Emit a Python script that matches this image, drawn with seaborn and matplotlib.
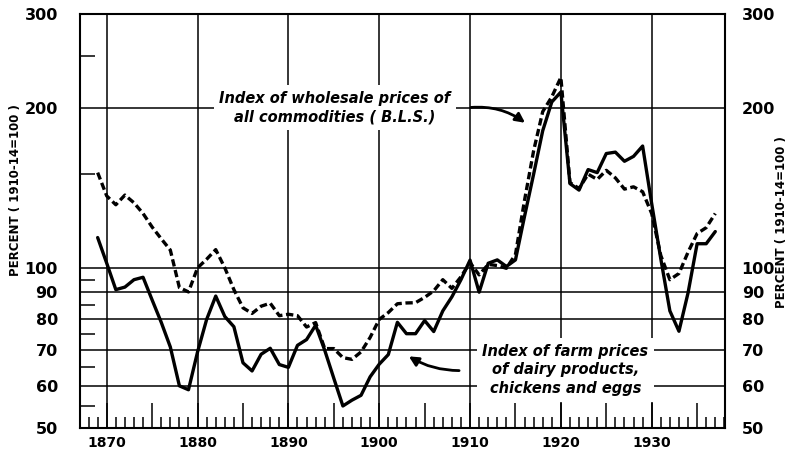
import numpy as np
import pandas as pd
import seaborn as sns
import matplotlib.pyplot as plt
import matplotlib.ticker as mticker

# data (index, 1910-14 = 100)
years = list(range(1869, 1938))
farm = [114, 102, 91, 92, 95, 96, 87, 79, 71, 60,
        59, 69.5, 80, 88.5, 81, 77.5, 66.3, 64, 68.8, 70.6,
        65.8, 65, 71.5, 73.3, 78, 70, 62, 55, 56.4, 57.6,
        62.4, 65.9, 68.7, 79, 75.2, 75.2, 79.6, 75.9, 83, 88.2,
        95, 103.4, 90, 102, 103.5, 100.6, 103.5, 125, 150, 181,
        205, 214, 144, 140, 153, 151, 164, 165, 158.6, 162,
        169.4, 132, 104, 83, 76, 89.7, 111, 111, 117]
wholesale = [151, 136.5, 131.4, 137, 132.5, 126.5, 119.3, 113.4, 108, 91.8,
             90.1, 100, 103.8, 108.2, 100, 91, 84.1, 82.1, 84.7, 85.8,
             81.3, 81.8, 81.3, 77.4, 78.9, 70.5, 70.5, 67.8, 67.3, 69.5,
             74, 80, 82.4, 85.6, 85.9, 86, 88, 90.5, 95, 91.5,
             96.2, 102.3, 97, 101.5, 101, 99.8, 106, 134, 166, 196.6,
             209.6, 228, 144.6, 141, 150, 146.6, 152.5, 147.6, 140.6, 142,
             139, 126.5, 105.5, 95, 97.6, 107, 116, 119, 126.5]

y_ticks = [50, 60, 70, 80, 90, 100, 200, 300]
y_minor = [55, 65, 75, 85, 95, 150, 250]
y_grid = [60, 70, 80, 90, 100, 200]
decades = [1870, 1880, 1890, 1900, 1910, 1920, 1930]

ylabel = 'PERCENT ( 1910-14=100 )'
label_wholesale = 'Index of wholesale prices of\nall commodities ( B.L.S.)'
label_farm = 'Index of farm prices\nof dairy products,\nchickens and eggs'

df = pd.DataFrame({'year': years, 'farm': farm, 'wholesale': wholesale})

sns.set_style('ticks')
plt.rcParams['font.family'] = ['DejaVu Sans']
plt.rcParams.update({'text.color': 'black', 'axes.edgecolor': 'black',
                     'xtick.color': 'black', 'ytick.color': 'black',
                     'axes.labelcolor': 'black'})

fig = plt.figure(figsize=(7.94, 4.53), dpi=100)
ax = fig.add_axes([0.1008, 0.0552, 0.8123, 0.9139])

# grid first so the lines sit on top
for v in y_grid:
    ax.axhline(v, color='black', lw=1.1, zorder=1)
for d in decades:
    ax.axvline(d, color='black', lw=1.1, zorder=1)

sns.lineplot(data=df, x='year', y='farm', ax=ax, color='black', lw=2.4, zorder=3)
sns.lineplot(data=df, x='year', y='wholesale', ax=ax, color='black', lw=2.4,
             linestyle=(0, (2.2, 1.1)), zorder=3)

ax.set_yscale('log')
ax.set_ylim(50, 300)
ax.set_xlim(1867.06, 1938.07)
ax.set_xlabel('')
ax.set_ylabel('')

ax.yaxis.set_major_locator(mticker.FixedLocator(y_ticks))
ax.yaxis.set_major_formatter(mticker.FixedFormatter([str(t) for t in y_ticks]))
ax.yaxis.set_minor_locator(mticker.FixedLocator(y_minor))
ax.yaxis.set_minor_formatter(mticker.NullFormatter())
ax.tick_params(axis='y', which='major', length=0, pad=16, labelsize=11.5)
ax.tick_params(axis='y', which='minor', direction='in', length=11, width=1.1,
               right=True)
for lab in ax.get_yticklabels():
    lab.set_fontweight('bold')

ax.xaxis.set_major_locator(mticker.MultipleLocator(5))
ax.xaxis.set_major_formatter(
    mticker.FuncFormatter(lambda v, p: str(int(v)) if int(v) % 10 == 0 else ''))
ax.xaxis.set_minor_locator(mticker.MultipleLocator(1))
ax.tick_params(axis='x', which='major', direction='in', length=18, width=1.1,
               pad=6, labelsize=10)
ax.tick_params(axis='x', which='minor', direction='in', length=8, width=1.1)
for lab in ax.get_xticklabels():
    lab.set_fontweight('bold')

for s in ax.spines.values():
    s.set_visible(True)
    s.set_linewidth(1.5)
    s.set_color('black')

# right-hand axis labels
ax2 = ax.twinx()
ax2.set_yscale('log')
ax2.set_ylim(50, 300)
ax2.yaxis.set_major_locator(mticker.FixedLocator(y_ticks))
ax2.yaxis.set_major_formatter(mticker.FixedFormatter([str(t) for t in y_ticks]))
ax2.yaxis.set_minor_locator(mticker.NullLocator())
ax2.tick_params(axis='y', which='major', length=0, pad=12, labelsize=11.5)
for lab in ax2.get_yticklabels():
    lab.set_fontweight('bold')
for s in ax2.spines.values():
    s.set_visible(False)

fig.text(16 / 794, 1 - 190 / 453, ylabel, rotation=90, ha='center', va='center',
         fontsize=8.5, fontweight='bold')
fig.text(781 / 794, 1 - 222 / 453, ylabel, rotation=90, ha='center', va='center',
         fontsize=8.5, fontweight='bold')

# annotations
box = dict(facecolor='white', edgecolor='none', pad=4)
ax.text(1895.1, 200, label_wholesale, ha='center', va='center', style='italic',
        fontweight='bold', fontsize=10.5, linespacing=1.35, bbox=box, zorder=4)
ax.text(1920.5, 64.3, label_farm, ha='center', va='center', style='italic',
        fontweight='bold', fontsize=10.5, linespacing=1.3, bbox=box, zorder=4)

ax.annotate('', xy=(1916.3, 186), xytext=(1909.8, 200),
            arrowprops=dict(arrowstyle='-|>', color='black', lw=2,
                            mutation_scale=14,
                            connectionstyle='arc3,rad=-0.2'), zorder=5)
ax.annotate('', xy=(1903.0, 68.6), xytext=(1909.1, 64.1),
            arrowprops=dict(arrowstyle='-|>', color='black', lw=2,
                            mutation_scale=14,
                            connectionstyle='arc3,rad=-0.15'), zorder=5)

fig.savefig('out.png', dpi=100)
